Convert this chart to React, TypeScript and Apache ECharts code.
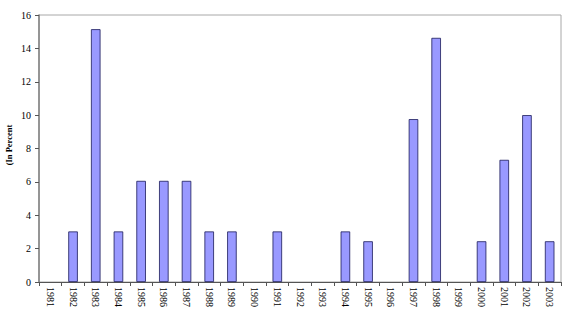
import React, { useEffect, useRef } from "react";
import * as echarts from "echarts";

const years = [
  "1981", "1982", "1983", "1984", "1985", "1986", "1987", "1988", "1989", "1990",
  "1991", "1992", "1993", "1994", "1995", "1996", "1997", "1998", "1999", "2000",
  "2001", "2002", "2003",
];
const values = [
  0, 3.03, 15.15, 3.03, 6.06, 6.06, 6.06, 3.03, 3.03, 0,
  3.03, 0, 0, 3.03, 2.44, 0, 9.76, 14.63, 0, 2.44,
  7.32, 10.0, 2.44,
];
const yTicks = [0, 2, 4, 6, 8, 10, 12, 14, 16];
const yName = "(In Percent";

export default function App() {
  const ref = useRef<HTMLDivElement>(null);
  useEffect(() => {
    document.body.style.margin = "0";
    if (!ref.current) return;
    const chart = echarts.init(ref.current, null, { renderer: "svg" });
    const font = "Liberation Serif, serif";
    chart.setOption({
      animation: false,
      grid: {
        left: 39,
        top: 15,
        right: 4,
        bottom: 35,
        show: true,
        borderColor: "#a8a8a8",
        borderWidth: 1,
        backgroundColor: "#ffffff",
      },
      xAxis: {
        type: "category",
        data: years,
        boundaryGap: true,
        axisLine: { show: true, lineStyle: { color: "#555555", width: 1 } },
        axisTick: { show: true, alignWithLabel: false, length: 4, lineStyle: { color: "#555555" } },
        axisLabel: {
          interval: 0,
          rotate: -90,
          fontFamily: font,
          fontSize: 10,
          color: "#000000",
          margin: 5,
        },
      },
      yAxis: {
        type: "value",
        min: yTicks[0],
        max: yTicks[yTicks.length - 1],
        interval: 2,
        axisLine: { show: true, lineStyle: { color: "#808080", width: 1.5 } },
        axisTick: { show: true, length: 4, lineStyle: { color: "#555555" } },
        splitLine: { show: false },
        axisLabel: {
          fontFamily: font,
          fontSize: 10,
          color: "#000000",
          margin: 8,
        },
      },
      graphic: [
        {
          type: "text",
          x: 9,
          y: 145,
          rotation: Math.PI / 2,
          style: {
            text: yName,
            font: "bold 8.5px " + font,
            fill: "#000000",
            align: "center",
            verticalAlign: "middle",
          },
        },
      ],
      series: [
        {
          type: "bar",
          data: values.map((v) => (v === 0 ? "-" : v)),
          barWidth: "42%",
          itemStyle: {
            color: "#9999ff",
            borderColor: "#1a1a5a",
            borderWidth: 0.8,
          },
        },
      ],
    });
    return () => chart.dispose();
  }, []);
  return <div ref={ref} style={{ width: 565, height: 317 }} />;
}
